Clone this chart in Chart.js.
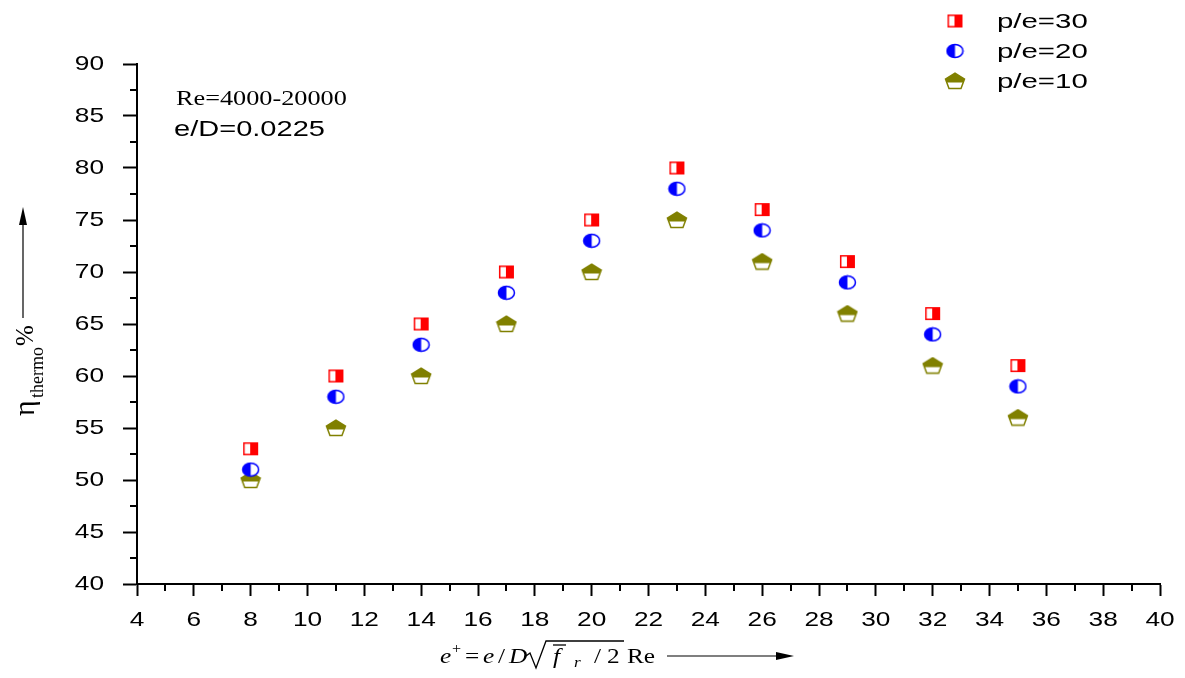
<!DOCTYPE html>
<html><head><meta charset="utf-8">
<script src="https://cdn.jsdelivr.net/npm/chart.js@4.4.1/dist/chart.umd.min.js"></script>
<style>html,body{margin:0;padding:0;background:#fff;} #wrap{width:1185px;height:678px;}</style>
</head><body><div id="wrap"><canvas id="c" width="1185" height="678"></canvas></div>
<script>
// ---- data ----
const eplus = [8, 11, 14, 17, 20, 23, 26, 29, 32, 35];
const pe30 = [53, 60, 65, 70, 75, 80, 76, 71, 66, 61];
const pe20 = [51, 58, 63, 68, 73, 78, 74, 69, 64, 59];
const pe10 = [50, 55, 60, 65, 70, 75, 71, 66, 61, 56];
const seriesLabels = ['p/e=30', 'p/e=20', 'p/e=10'];
const xRange = [4, 40];
const yRange = [40, 90];
const xStep = 2;
const yStep = 5;

// ---- marker images ----
function mk(w, h, fn) { const c = document.createElement('canvas'); c.width = w; c.height = h; fn(c.getContext('2d')); return c; }
const sqImg = mk(17, 15, g => {
  g.fillStyle = '#ff0000'; g.fillRect(1, 1, 15, 13);
  g.fillStyle = '#ffffff'; g.fillRect(2.5, 2.5, 5.5, 10);
});
const ciImg = mk(19, 16, g => {
  g.fillStyle = '#fff'; g.beginPath(); g.ellipse(9.5, 8, 8, 6.5, 0, 0, Math.PI * 2); g.fill();
  g.fillStyle = '#0000ff'; g.beginPath(); g.ellipse(9.5, 8, 8, 6.5, 0, Math.PI / 2, Math.PI * 1.5); g.closePath(); g.fill();
  g.strokeStyle = '#0000ff'; g.lineWidth = 1.5; g.beginPath(); g.ellipse(9.5, 8, 8, 6.5, 0, 0, Math.PI * 2); g.stroke();
});
const peImg = mk(22, 18, g => {
  const p = () => { g.beginPath(); g.moveTo(11, 1.2); g.lineTo(20.5, 7); g.lineTo(17, 16.5); g.lineTo(5, 16.5); g.lineTo(1.5, 7); g.closePath(); };
  p(); g.fillStyle = '#fff'; g.fill();
  g.save(); p(); g.clip(); g.fillStyle = '#808000'; g.fillRect(0, 0, 22, 10.5); g.restore();
  p(); g.strokeStyle = '#808000'; g.lineWidth = 1.5; g.stroke();
});

const toPts = ys => eplus.map((x, i) => ({ x: x, y: ys[i] }));

// ---- plugins ----
const stretchTicks = {
  id: 'stretchTicks',
  beforeDraw(chart) {
    const ctx = chart.ctx;
    const orig = CanvasRenderingContext2D.prototype.fillText;
    ctx.fillText = function (t, x, y) { this.save(); this.translate(x, y); this.scale(1.25, 1); orig.call(this, t, 0, 0); this.restore(); };
  },
  beforeDatasetsDraw(chart) { delete chart.ctx.fillText; }
};

const minorTicks = {
  id: 'minorTicks',
  afterDraw(chart) {
    const ctx = chart.ctx, xs = chart.scales.x, ys = chart.scales.y, a = chart.chartArea;
    ctx.save(); ctx.strokeStyle = '#000'; ctx.lineWidth = 2;
    for (let v = xRange[0] + xStep / 2; v < xRange[1]; v += xStep) {
      const px = Math.round(xs.getPixelForValue(v));
      ctx.beginPath(); ctx.moveTo(px, a.bottom); ctx.lineTo(px, a.bottom + 7); ctx.stroke();
    }
    for (let v = yRange[0] + yStep / 2; v < yRange[1]; v += yStep) {
      const py = Math.round(ys.getPixelForValue(v));
      ctx.beginPath(); ctx.moveTo(a.left - 7, py); ctx.lineTo(a.left, py); ctx.stroke();
    }
    ctx.restore();
  }
};

function sText(ctx, t, x, y, sx) { ctx.save(); ctx.translate(x, y); ctx.scale(sx, 1); ctx.fillText(t, 0, 0); ctx.restore(); }

const annotations = {
  id: 'annotations',
  afterDraw(chart) {
    const ctx = chart.ctx;
    ctx.save(); ctx.fillStyle = '#000'; ctx.textBaseline = 'alphabetic'; ctx.textAlign = 'left';
    // legend
    chart.data.datasets.forEach((ds, i) => {
      const y = 21 + 30 * i;
      const im = ds.pointStyle;
      ctx.drawImage(im, 955 - im.width / 2, y - im.height / 2);
      ctx.font = '21px "Liberation Sans", Arial, sans-serif'; ctx.textBaseline = 'middle';
      sText(ctx, ds.label, 997, y + 1, 1.4);
    });
    ctx.textBaseline = 'alphabetic';
    // annotations in plot
    ctx.font = '21px "Liberation Serif", "Times New Roman", serif';
    sText(ctx, 'Re=4000-20000', 176, 105, 1.25);
    ctx.font = '22px "Liberation Sans", Arial, sans-serif';
    sText(ctx, 'e/D=0.0225', 174, 136, 1.32);

    // x title formula
    const base = 663;
    const it = '22px "Liberation Serif", "Times New Roman", serif';
    const sx = 1.15;
    ctx.font = 'italic ' + it; sText(ctx, 'e', 440, base, sx);
    ctx.font = '14px "Liberation Serif", serif'; sText(ctx, '+', 452, base - 10, sx);
    ctx.font = it; sText(ctx, '=', 465, base, sx);
    ctx.font = 'italic ' + it; sText(ctx, 'e', 483, base, sx);
    ctx.font = it; sText(ctx, '/', 498, base, sx);
    ctx.font = 'italic ' + it; sText(ctx, 'D', 509, base, sx);
    ctx.strokeStyle = '#000'; ctx.lineWidth = 1.3;
    ctx.beginPath(); ctx.moveTo(526, 656); ctx.lineTo(530, 653); ctx.lineTo(536, 668); ctx.lineTo(546, 641); ctx.lineTo(624, 641); ctx.stroke();
    ctx.beginPath(); ctx.moveTo(553, 645); ctx.lineTo(566, 645); ctx.stroke();
    ctx.font = 'italic ' + it; sText(ctx, 'f', 553, base, sx);
    ctx.font = 'italic 15px "Liberation Serif", serif'; sText(ctx, 'r', 574, base + 4, sx);
    ctx.font = it; sText(ctx, '/', 594, base, sx);
    sText(ctx, '2', 607, base, sx);
    sText(ctx, 'Re', 627, base, sx);
    ctx.lineWidth = 1.2;
    ctx.beginPath(); ctx.moveTo(667, 656); ctx.lineTo(780, 656); ctx.stroke();
    ctx.fillStyle = '#000'; ctx.beginPath(); ctx.moveTo(776, 652); ctx.lineTo(794, 656); ctx.lineTo(776, 660); ctx.closePath(); ctx.fill();

    // y title
    ctx.save();
    ctx.translate(34, 416); ctx.rotate(-Math.PI / 2);
    ctx.font = '30px "Liberation Serif", "Times New Roman", serif';
    ctx.fillText('η', 0, 0);
    ctx.font = '18px "Liberation Serif", "Times New Roman", serif';
    ctx.fillText('thermo', 18, 9);
    ctx.font = '25px "Liberation Serif", "Times New Roman", serif';
    ctx.fillText('%', 70, -1);
    ctx.restore();
    ctx.lineWidth = 1.2;
    ctx.beginPath(); ctx.moveTo(23, 318); ctx.lineTo(23, 220); ctx.stroke();
    ctx.beginPath(); ctx.moveTo(19, 225); ctx.lineTo(23, 207); ctx.lineTo(27, 225); ctx.closePath(); ctx.fill();
    ctx.restore();
  }
};

const tickFont = { family: '"Liberation Sans", Arial, sans-serif', size: 21 };

new Chart(document.getElementById('c'), {
  type: 'scatter',
  data: {
    datasets: [
      { label: seriesLabels[0], data: toPts(pe30), pointStyle: sqImg, pointRadius: 8, showLine: false },
      { label: seriesLabels[1], data: toPts(pe20), pointStyle: ciImg, pointRadius: 8, showLine: false },
      { label: seriesLabels[2], data: toPts(pe10), pointStyle: peImg, pointRadius: 8, showLine: false }
    ]
  },
  options: {
    responsive: false, animation: false, events: [],
    layout: { padding: { top: 64, right: 25, left: 0, bottom: 0 } },
    plugins: { legend: { display: false }, tooltip: { enabled: false } },
    scales: {
      x: {
        type: 'linear', min: xRange[0], max: xRange[1],
        ticks: { stepSize: xStep, color: '#000', font: tickFont, padding: 12, maxRotation: 0 },
        grid: { display: true, drawOnChartArea: false, drawTicks: true, tickLength: 12, tickWidth: 2, tickColor: '#000' },
        border: { display: true, color: '#000', width: 2 },
        afterFit: s => { s.height = 94; }
      },
      y: {
        type: 'linear', min: yRange[0], max: yRange[1],
        ticks: { stepSize: yStep, color: '#000', font: tickFont, padding: 19 },
        grid: { display: true, drawOnChartArea: false, drawTicks: true, tickLength: 14, tickWidth: 2, tickColor: '#000' },
        border: { display: true, color: '#000', width: 2 },
        afterFit: s => { s.width = 137; }
      }
    }
  },
  plugins: [stretchTicks, minorTicks, annotations]
});
</script>
</body></html>
